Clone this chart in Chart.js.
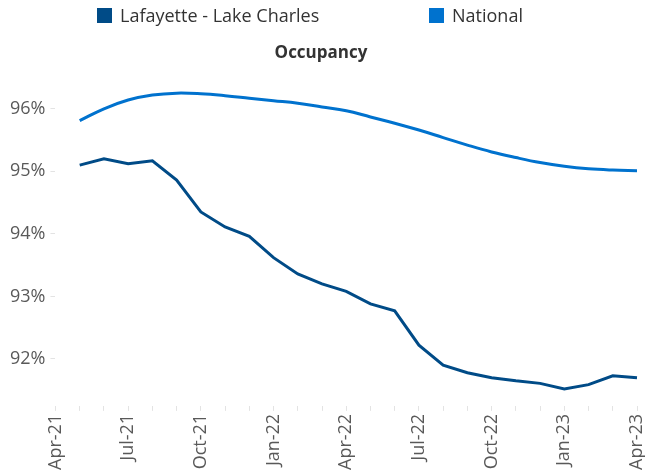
<!DOCTYPE html>
<html>
<head>
<meta charset="utf-8">
<script src="https://cdn.jsdelivr.net/npm/chart.js@4.4.1/dist/chart.umd.min.js"></script>
<style>
    html, body { margin: 0; padding: 0; background: #ffffff; }
    #wrap { position: relative; width: 645px; height: 473px; }
    #legend { position: absolute; left: 0; top: 0; width: 645px; height: 32px; font-family: "Open Sans", sans-serif; font-size: 18px; color: #333333; }
    .item { position: absolute; top: 3px; display: flex; align-items: center; white-space: nowrap; }
    .box { width: 15px; height: 15px; margin-right: 8px; }
</style>
</head>
<body>
<div id="wrap">
    <canvas id="chart" width="645" height="473"></canvas>
    <div id="legend"></div>
</div>
<script>
const months = [
    "Apr-21", "May-21", "Jun-21", "Jul-21", "Aug-21", "Sep-21", "Oct-21", "Nov-21", "Dec-21",
    "Jan-22", "Feb-22", "Mar-22", "Apr-22", "May-22", "Jun-22", "Jul-22", "Aug-22", "Sep-22",
    "Oct-22", "Nov-22", "Dec-22", "Jan-23", "Feb-23", "Mar-23", "Apr-23"
];
const lafayette = [
    null, 95.10, 95.20, 95.12, 95.17, 94.86, 94.35, 94.11, 93.96, 93.62, 93.36, 93.20, 93.08,
    92.88, 92.77, 92.22, 91.90, 91.78, 91.70, 91.65, 91.61, 91.52, 91.59, 91.73, 91.70
];
const national = [
    null, 95.81, 96.00, 96.14, 96.22, 96.25, 96.24, 96.21, 96.17, 96.13, 96.09, 96.03, 95.97,
    95.87, 95.77, 95.66, 95.54, 95.42, 95.31, 95.22, 95.14, 95.08, 95.04, 95.02, 95.01
];
const seriesNames = ["Lafayette - Lake Charles", "National"];
const seriesColors = ["#004b87", "#0072ce"];

// legend built in html so the wide gap between items matches
const legendDiv = document.getElementById("legend");
const legendLeft = [97, 429];
seriesNames.forEach((name, i) => {
    const item = document.createElement("div");
    item.className = "item";
    item.style.left = legendLeft[i] + "px";
    item.innerHTML = `<span class="box" style="background:${seriesColors[i]}"></span><span>${name}</span>`;
    legendDiv.appendChild(item);
});

const ctx = document.getElementById("chart").getContext("2d");
const tickColor = "#e3e3e3";

new Chart(ctx, {
    type: "line",
    data: {
        labels: months,
        datasets: [
            {
                label: seriesNames[0],
                data: lafayette,
                borderColor: seriesColors[0],
                borderWidth: 3,
                pointRadius: 0,
                tension: 0,
                fill: false,
            },
            {
                label: seriesNames[1],
                data: national,
                borderColor: seriesColors[1],
                borderWidth: 3,
                pointRadius: 0,
                tension: 0.4,
                fill: false,
            },
        ],
    },
    options: {
        responsive: false,
        animation: false,
        layout: { padding: { left: 5, right: 8, top: 0, bottom: 0 } },
        plugins: {
            legend: { display: false },
            tooltip: { enabled: false },
            title: {
                display: true,
                text: "Occupancy",
                color: "#333333",
                font: { family: "Open Sans", size: 17, weight: "bold" },
                padding: { top: 43, bottom: 11 },
            },
        },
        scales: {
            x: {
                offset: false,
                border: { display: false },
                grid: { display: true, drawOnChartArea: false, drawTicks: true, tickLength: 5, color: tickColor },
                // let the last rotated label run to the edge like the original
                afterFit: (scale) => {
                    scale.paddingRight = 0;
                },
                ticks: {
                    autoSkip: false,
                    maxRotation: 90,
                    minRotation: 90,
                    padding: 3,
                    color: "#595959",
                    font: { family: "Open Sans", size: 18 },
                    callback: function (value, index) {
                        return index % 3 === 0 ? months[index] : "";
                    },
                },
            },
            y: {
                min: 91.25,
                max: 96.55,
                border: { display: false },
                grid: { display: true, drawOnChartArea: false, drawTicks: true, tickLength: 5, color: tickColor },
                afterBuildTicks: (scale) => {
                    scale.ticks = scale.ticks.filter((t) => Number.isInteger(t.value));
                },
                ticks: {
                    stepSize: 1,
                    padding: 5,
                    color: "#595959",
                    font: { family: "Open Sans", size: 18 },
                    callback: (v) => v + "%",
                },
            },
        },
    },
});
</script>
</body>
</html>
